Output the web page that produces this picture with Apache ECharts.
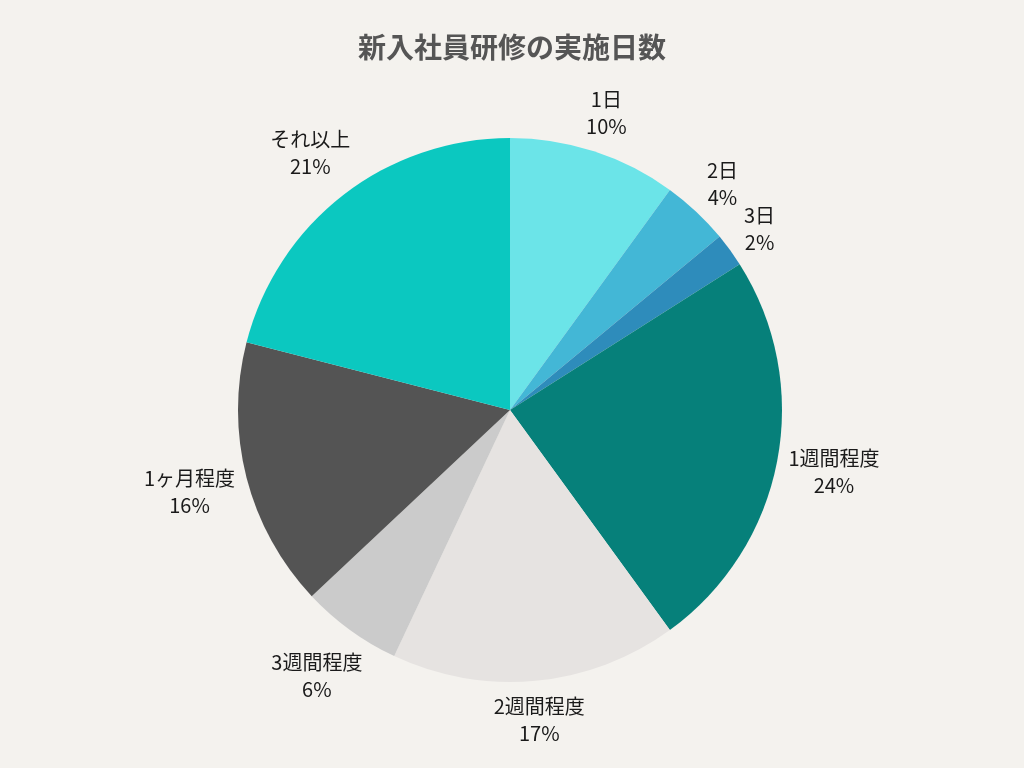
<!DOCTYPE html>
<html>
<head>
<meta charset="utf-8">
<script src="https://cdn.jsdelivr.net/npm/echarts@6/dist/echarts.min.js"></script>
<style>
html,body{margin:0;padding:0;background:#f4f2ee;}
#main{width:1024px;height:768px;}
</style>
</head>
<body>
<div id="main"></div>
<script>
const titleText = '新入社員研修の実施日数';
const categories = ['1日', '2日', '3日', '1週間程度', '2週間程度', '3週間程度', '1ヶ月程度', 'それ以上'];
const values = [10, 4, 2, 24, 17, 6, 16, 21];
const colors = ['#6be4e8', '#43b7d6', '#2e8cbb', '#06807a', '#e6e3e1', '#cbcbcb', '#545454', '#0bc8c0'];

const chart = echarts.init(document.getElementById('main'));
const LABEL_OFFSET = 8;

function placeLabel(params) {
  try {
    const data = chart.getModel().getSeriesByIndex(0).getData();
    const lay = data.getItemLayout(params.dataIndex);
    const mid = (lay.startAngle + lay.endAngle) / 2;
    const dx = Math.cos(mid), dy = Math.sin(mid);
    const w = params.labelRect.width, h = params.labelRect.height;
    const ext = Math.abs(dx) * w / 2 + Math.abs(dy) * h / 2;
    const R = lay.r + LABEL_OFFSET + ext;
    return {
      x: lay.cx + R * dx,
      y: lay.cy + R * dy,
      align: 'center',
      verticalAlign: 'middle'
    };
  } catch (e) {
    return {};
  }
}

chart.setOption({
  backgroundColor: '#f4f2ee',
  color: colors,
  title: {
    text: titleText,
    left: 'center',
    top: 28,
    textStyle: {
      fontFamily: 'Noto Sans CJK JP',
      fontSize: 28,
      fontWeight: 'bold',
      color: '#555555'
    }
  },
  series: [{
    type: 'pie',
    center: [510, 410],
    radius: [0, 272],
    startAngle: 90,
    clockwise: true,
    avoidLabelOverlap: false,
    animation: false,
    itemStyle: { borderWidth: 0 },
    label: {
      show: true,
      position: 'outside',
      formatter: '{b}\n{d}%',
      fontFamily: 'Noto Sans CJK JP',
      fontSize: 20,
      lineHeight: 27,
      color: '#1a1a1a',
      align: 'center'
    },
    labelLine: { show: false },
    labelLayout: placeLabel,
    emphasis: { disabled: true },
    data: categories.map((c, i) => ({ name: c, value: values[i] }))
  }]
});
</script>
</body>
</html>
